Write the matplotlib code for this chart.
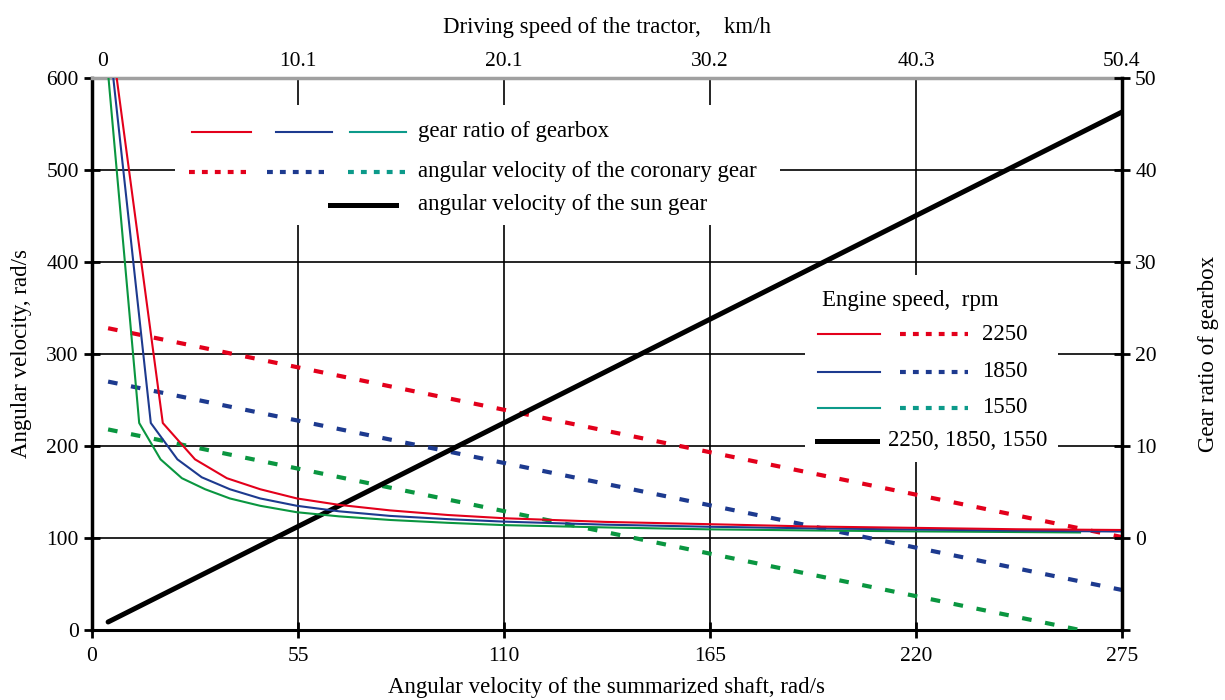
import matplotlib
matplotlib.use("Agg")
import matplotlib.pyplot as plt
from matplotlib.patches import Rectangle

plt.rcParams['font.family'] = ['Liberation Serif', 'DejaVu Serif']
plt.rcParams['font.size'] = 15

# axis ticks
shaft_ticks = [0, 55, 110, 165, 220, 275]
speed_tick_pos = [2.7, 55, 110, 165, 220, 275]
speed_labels = ['0', '10.1', '20.1', '30.2', '40.3', '50.4']
ratio_ticks = [-10, 0, 10, 20, 30, 40, 50]
ratio_labels = ['', '0', '10', '20', '30', '40', '50']

# gear ratio of gearbox (right axis)
ratio_x_2250 = [4.3, 18.9, 27.5, 36, 44.9, 54.7, 66, 79.6, 95, 110, 137, 165, 192, 220, 247, 275]
ratio_2250 = [57, 12.5, 8.55, 6.5, 5.3, 4.3, 3.6, 3.0, 2.5, 2.15, 1.75, 1.5, 1.25, 1.1, 0.95, 0.87]
ratio_x_1850 = [4.3, 15.7, 22.8, 29.3, 36.8, 44.9, 54.7, 66, 79.6, 95, 110, 137, 165, 192, 220, 247, 275]
ratio_1850 = [55.2, 12.5, 8.55, 6.6, 5.3, 4.3, 3.5, 2.9, 2.4, 2.05, 1.78, 1.45, 1.22, 1.05, 0.92, 0.8, 0.7]
ratio_x_1550 = [4.3, 12.6, 18.3, 24, 30.2, 36.8, 44.9, 54.7, 66, 79.6, 95, 110, 137, 165, 192, 220, 263.8]
ratio_1550 = [50.5, 12.5, 8.55, 6.5, 5.3, 4.3, 3.5, 2.8, 2.35, 1.96, 1.65, 1.4, 1.15, 0.94, 0.82, 0.72, 0.6]

# angular velocity of the coronary gear (left axis)
coronary_x = [4.3, 275]
coronary_2250 = [328, 101]
coronary_1850 = [270, 43.5]
coronary_x_1550 = [4.3, 263.8]
coronary_1550 = [218, 0]

# angular velocity of the sun gear (left axis)
sun_x = [4.3, 275]
sun = [8.7, 563]

RED, BLUE, GREEN, TEAL = '#e3001b', '#1d3a8f', '#0a9640', '#0c9a8a'
dash = (0, (2.3, 3.3))
dot = (0, (1.4, 1.7))
LBL = 16.5

fig = plt.figure(figsize=(12.25, 7), dpi=100)
ax = fig.add_axes([0.0751, 0.1, 0.8408, 0.7886])
ax2 = ax.twinx()

ax.set_xlim(0, 275)
ax.set_ylim(0, 600)
ax2.set_ylim(-10, 50)

ax.plot(coronary_x, coronary_2250, color=RED, lw=3, ls=dash, zorder=3)
ax.plot(coronary_x, coronary_1850, color=BLUE, lw=3, ls=dash, zorder=3)
ax.plot(coronary_x_1550, coronary_1550, color=GREEN, lw=3, ls=dash, zorder=3)
ax.plot(sun_x, sun, color='black', lw=3.6, solid_capstyle='round', zorder=3)

ax2.plot(ratio_x_1550, ratio_1550, color=GREEN, lw=1.5)
ax2.plot(ratio_x_1850, ratio_1850, color=BLUE, lw=1.5)
ax2.plot(ratio_x_2250, ratio_2250, color=RED, lw=1.5)

# grid and spines
ax.set_xticks(shaft_ticks)
ax.set_yticks(range(0, 601, 100))
ax.grid(True, color='black', lw=1.2)
ax.tick_params(axis='both', direction='inout', length=12, width=2, labelsize=15.5)
ax.tick_params(axis='x', pad=6)
ax.spines['left'].set_linewidth(2.5)
ax.spines['bottom'].set_linewidth(2.2)
ax.spines['top'].set_color('#a0a0a0')
ax.spines['top'].set_linewidth(2.5)
ax.spines['right'].set_visible(False)
for s in ['left', 'top', 'bottom']:
    ax2.spines[s].set_visible(False)
ax2.spines['right'].set_linewidth(2.5)
ax2.set_yticks(ratio_ticks, ratio_labels)
ax2.tick_params(axis='y', direction='inout', length=12, width=2, labelsize=15.5)

top = ax.secondary_xaxis('top')
top.set_xticks(speed_tick_pos, speed_labels)
top.tick_params(length=0, pad=5, labelsize=15.5)
top.spines['top'].set_visible(False)
top.set_xlabel('Driving speed of the tractor,    km/h', fontsize=LBL, labelpad=14)

ax.set_xlabel('Angular velocity of the summarized shaft, rad/s', fontsize=LBL, labelpad=8)
ax.set_ylabel('Angular velocity, rad/s', fontsize=LBL, labelpad=10)
ax2.set_ylabel('Gear ratio of gearbox', fontsize=LBL, labelpad=30)

# upper legend
T = ax2.transAxes
ax2.add_patch(Rectangle((0.0806, 0.7337), 0.587, 0.2174, transform=T, facecolor='white', edgecolor='none', zorder=4))
for x0, x1, c in [(0.0971, 0.1544, RED), (0.1786, 0.2330, BLUE), (0.2505, 0.3049, TEAL)]:
    ax2.plot([x0, x1], [0.9022, 0.9022], transform=T, color=c, lw=1.5, zorder=5)
for x0, x1, c in [(0.0942, 0.1495, RED), (0.1699, 0.2252, BLUE), (0.2485, 0.3039, TEAL)]:
    ax2.plot([x0, x1], [0.8297, 0.8297], transform=T, color=c, lw=3, ls=dot, zorder=5)
ax2.plot([0.2311, 0.2951], [0.7699, 0.7699], transform=T, color='black', lw=3.6, zorder=5)
ax2.text(0.3165, 0.9022, 'gear ratio of gearbox', transform=T, va='center', fontsize=LBL, zorder=6)
ax2.text(0.3165, 0.8297, 'angular velocity of the coronary gear', transform=T, va='center', fontsize=LBL, zorder=6)
ax2.text(0.3165, 0.7699, 'angular velocity of the sun gear', transform=T, va='center', fontsize=LBL, zorder=6)

# right legend
ax2.add_patch(Rectangle((0.6922, 0.3043), 0.2457, 0.3388, transform=T, facecolor='white', edgecolor='none', zorder=4))
ax2.text(0.7087, 0.5978, 'Engine speed,  rpm', transform=T, va='center', fontsize=LBL, zorder=6)
for yy, c, lab in [(0.5362, RED, '2250'), (0.4674, BLUE, '1850'), (0.4022, TEAL, '1550')]:
    ax2.plot([0.7049, 0.7650], [yy, yy], transform=T, color=c, lw=1.5, zorder=5)
    ax2.plot([0.7845, 0.8505], [yy, yy], transform=T, color=c, lw=3, ls=dot, zorder=5)
    ax2.text(0.8641, yy, lab, transform=T, va='center', fontsize=LBL, zorder=6)
ax2.plot([0.7039, 0.7621], [0.3424, 0.3424], transform=T, color='black', lw=3.6, zorder=5)
ax2.text(0.7728, 0.3424, '2250, 1850, 1550', transform=T, va='center', fontsize=LBL, zorder=6)

fig.savefig('out.png', dpi=100)
